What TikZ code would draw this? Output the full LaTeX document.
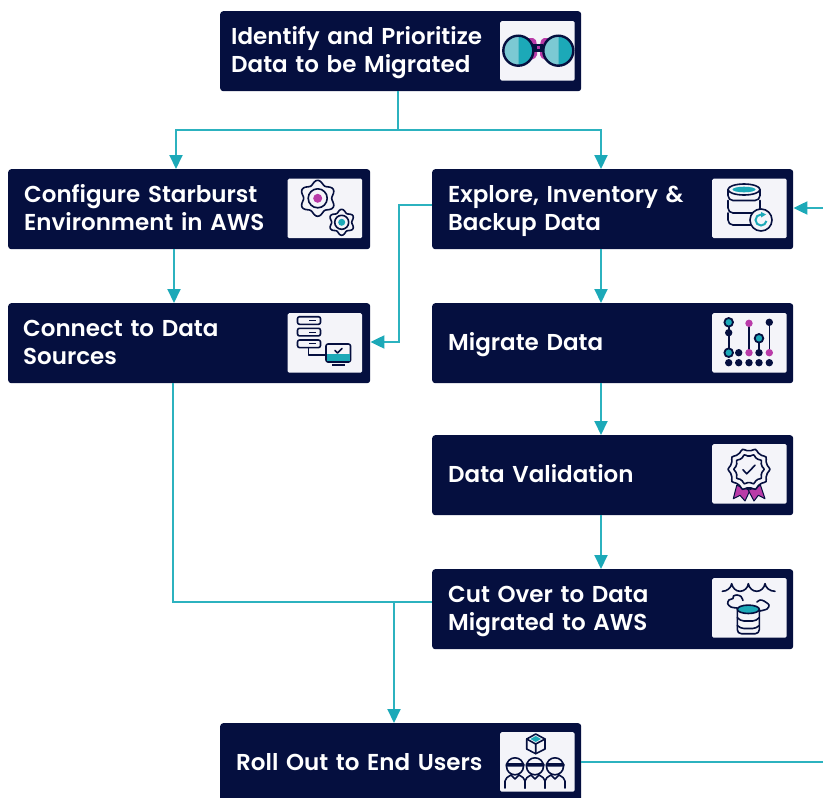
\documentclass[tikz,border=0pt]{standalone}
\usepackage{fontspec}
\setmainfont{Poppins SemiBold}
\usetikzlibrary{arrows.meta}
\definecolor{navy}{HTML}{050F3F}
\definecolor{tile}{HTML}{F4F4F9}
\definecolor{teal}{HTML}{1CA9B8}
\definecolor{lteal}{HTML}{7CC9D3}
\definecolor{wire}{HTML}{2CB2BF}
\definecolor{mag}{HTML}{B93BA8}
\tikzset{
  box/.style={fill=navy,text=white,rounded corners=3pt,anchor=north west,align=left,
    minimum height=80pt,inner xsep=16pt,inner ysep=0pt,text width=329pt,
    font=\fontsize{23}{28}\selectfont,execute at begin node={\vadjust pre{\kern4pt}\strut},execute at end node=\strut},
  icontile/.style={fill=tile,rounded corners=1.5pt,anchor=north west,inner sep=0pt,minimum width=74.5pt,minimum height=59.5pt},
  ic/.style={draw=navy,line width=1.6pt,line cap=round,line join=round},
  conn/.style={draw=wire,line width=2pt},
  arr/.style={conn,-{Triangle[length=14pt,width=13pt,color=teal]}}
}
\begin{document}
\begin{tikzpicture}[x=1pt,y=-1pt]
\useasboundingbox (0,0) rectangle (823,798);
\clip (0,0) rectangle (823,798);
% boxes
\node[box,inner xsep=11pt,text width=339pt] (top) at (220,11) {Identify and Prioritize\\Data to be Migrated};
\node[box,text width=330pt] (cfg) at (8,169) {Configure Starburst\\Environment in AWS};
\node[box] (exp) at (432,169) {Explore, Inventory \&\\Backup Data};
\node[box,inner xsep=15pt,text width=332pt] (con) at (8,303) {Connect to Data\\Sources};
\node[box] (mig) at (432,303) {Migrate Data};
\node[box] (val) at (432,435) {Data Validation};
\node[box] (cut) at (432,569) {Cut Over to Data\\Migrated to AWS};
\node[box] (rol) at (220,723) {Roll Out to End Users};
% icon tiles
\node[icontile] (t1) at (500,21) {};
\node[icontile] (t2) at (287.5,178.5) {};
\node[icontile] (t3) at (712,178.5) {};
\node[icontile] (t4) at (287.5,313) {};
\node[icontile] (t5) at (712,313) {};
\node[icontile] (t6) at (712,444) {};
\node[icontile] (t7) at (712,578) {};
\node[icontile] (t8) at (500,732) {};
% connector coordinates
\coordinate (split) at (398,130);
\coordinate (join) at (394,602);
\coordinate (offR) at (823,762);
\coordinate (offE) at (823,208);
\draw[conn] (top.south -| split) -- (split);
\draw[arr] (split) -| (176,169);
\draw[arr] (split) -| (601,169);
\draw[arr] (174,249) -- (174,303);
\draw[arr] (exp.west |- 0,205) -- (399,205) -- (399,342) -- (con.east |- 0,342);
\draw[arr] (601,249) -- (601,303);
\draw[arr] (601,383) -- (601,435);
\draw[arr] (601,515) -- (601,569);
\draw[conn] (173,383) -- (173,602) -- (cut.west |- join);
\draw[arr] (join) -- (rol.north -| join);
\draw[conn] (rol.east |- offR) -- (offR);
\draw[arr] (offE) -- (exp.east |- offE);
% binoculars
\fill[mag,rounded corners=2pt] (525,38) -- (535,38) -- (537,44) -- (537,57) -- (527,62) -- cycle;
\fill[mag,rounded corners=2pt] (551,38) -- (542,38) -- (540,44) -- (540,57) -- (549,62) -- cycle;
\fill[navy] (533,43.5) rectangle (543,52);
\fill[mag] (536.5,45.5) rectangle (539.5,48.5);
\foreach \c in {518.3,558.3}{
  \fill[lteal] (\c,35.7) arc[start angle=-90,end angle=-270,radius=15];
  \fill[teal] (\c,35.7) arc[start angle=-90,end angle=90,radius=15];
  \draw[navy,line width=2.4pt] (\c,50.7) circle[radius=15];
}
% gears
\begin{scope}[shift={(317.7,198.3)}]
  \draw[ic] plot[smooth cycle,domain=0:354,samples=60] (\x:{16-2*cos(6*\x)});
  \draw[ic] (0,0) circle[radius=9.5];
  \fill[mag] (0,0) circle[radius=4.5];
\end{scope}
\begin{scope}[shift={(341.7,222.3)}]
  \draw[ic] plot[smooth cycle,domain=0:354,samples=60] (\x:{11.5-1.5*cos(6*\x)});
  \draw[ic] (0,0) circle[radius=7];
  \fill[teal] (0,0) circle[radius=3.5];
\end{scope}
% database with refresh
\draw[ic,rounded corners=5pt] (728,189.5) -- (728,200.5) -- (760,200.5) -- (760,189.5);
\draw[ic,rounded corners=5pt] (728,200.5) -- (728,213) -- (760,213) -- (760,200.5);
\draw[ic,rounded corners=5pt] (728,213) -- (728,225) -- (752,225);
\draw[ic] (744,189.5) ellipse[x radius=16,y radius=5.5];
\fill[teal] (744,189.5) ellipse[x radius=11.5,y radius=2.8];
\draw[ic,fill=tile] (761,220) circle[radius=11];
\draw[teal,line width=2pt] (761,214.5) arc[start angle=-90,end angle=-350,radius=5.5];
\fill[teal] (761,212) -- (766,214.5) -- (761,217.5) -- cycle;
% servers and monitor
\foreach \y in {316.7,328.3,340}{
  \draw[ic,rounded corners=2pt] (297.5,\y) rectangle (320.5,\y+7.6);
  \draw[navy,line width=1.2pt] (309,\y+3.8) -- (316,\y+3.8);
}
\draw[ic] (308.5,347.7) -- (308.5,355) -- (326,355);
\draw[ic,fill=tile,rounded corners=2pt] (326,344) rectangle (350.5,362);
\fill[teal] (327,354) rectangle (349.5,361);
\draw[ic] (335,350.5) -- (337.5,353) -- (342,348.5);
\draw[navy,line width=2pt] (332,364.5) -- (345,364.5);
% sliders
\foreach \x in {728.7,738.7,749,759,769.3}{ \fill[navy] (\x,362.7) circle[radius=3.7]; }
\draw[ic] (728.7,322.3) -- (728.7,352.7) (749,323.3) -- (749,352.7) (759,338.3) -- (759,352.7) (769.3,322.3) -- (769.3,352.7);
\foreach \x/\y in {728.7/332.7,738.7/352.7,759/352.7,769.3/322.3}{ \fill[navy] (\x,\y) circle[radius=3.7]; }
\foreach \x/\y in {749/323.3,749/352.7,769.3/352.7}{ \fill[mag] (\x,\y) circle[radius=3.7]; }
\foreach \x/\y in {728.7/322.3,728.7/352.7,759/338.3}{ \draw[navy,fill=teal,line width=1.8pt] (\x,\y) circle[radius=4.3]; }
% badge
\draw[draw=navy,fill=mag,line width=1pt,line join=round] (736.7,485.3) -- (733.3,498.7) -- (740,495.3) -- (745,501) -- (750,490.3) -- cycle;
\draw[draw=navy,fill=mag,line width=1pt,line join=round] (760.5,485.3) -- (765,498.7) -- (758.3,495.3) -- (754,501) -- (748.3,490.3) -- cycle;
\begin{scope}[shift={(749,469.3)}]
  \draw[ic,fill=tile] plot[smooth cycle,domain=0:348,samples=30] (\x:{19.5+1.5*cos(10*\x)});
  \draw[ic] plot[smooth cycle,domain=0:348,samples=30] (\x:{14+1.2*cos(10*\x)});
  \draw[ic] (-6,0.5) -- (-2.3,4.5) -- (6,-4);
\end{scope}
% waves, clouds and database
\draw[ic] (722.3,591.3) .. controls (727,591.3) and (731,588) .. (731.7,583.7)
  .. controls (732.5,588) and (736,591.3) .. (740,591.3)
  .. controls (744,591.3) and (748,588) .. (748.3,583.7)
  .. controls (749,588) and (752.7,591.3) .. (756.7,591.3)
  .. controls (760.7,591.3) and (764.3,588) .. (765,583.7)
  .. controls (765.7,588) and (770,591.3) .. (775,591.3);
\draw[ic] plot[smooth] coordinates {(737,608) (731,607) (727.7,603.7) (729,600) (733,598.5) (733.5,596) (737,595) (741,596.5) (743,600.5)};
\draw[ic] plot[smooth] coordinates {(757,602) (760,600) (764,601) (769,605) (767,609) (760,611)};
\draw[ic,fill=tile,rounded corners=4pt] (737.3,609.3) -- (737.3,633.7) -- (759.3,633.7) -- (759.3,609.3);
\draw[ic,rounded corners=4pt] (737.3,617.5) -- (740,621) -- (756.6,621) -- (759.3,617.5);
\draw[ic,rounded corners=4pt] (737.3,625.5) -- (740,628.5) -- (756.6,628.5) -- (759.3,625.5);
\draw[ic,fill=teal] (748.3,609.3) ellipse[x radius=11,y radius=4.2];
% cube and users
\draw[ic] (535.7,734) -- (545,739) -- (545,749) -- (535.7,753.7) -- (526.7,749) -- (526.7,739) -- cycle;
\draw[ic] (526.7,739) -- (535.7,744) -- (545,739) (535.7,744) -- (535.7,753.7);
\fill[teal] (535.7,736) -- (541,739) -- (535.7,742) -- (530.4,739) -- cycle;
\foreach \c in {515,535,555}{
  \draw[ic] (\c,766.3) circle[radius=8.5];
  \fill[navy,rounded corners=1pt] (\c-9.5,763) rectangle (\c+9.5,766.5);
  \draw[ic] (\c-10,788) -- (\c-10,781) .. controls (\c-10,778) and (\c-7,777) .. (\c-4,775);
  \draw[ic] (\c+10,788) -- (\c+10,781) .. controls (\c+10,778) and (\c+7,777) .. (\c+4,775);
  \draw[ic] (\c-4,775) -- (\c,779) -- (\c+4,775);
}
\end{tikzpicture}
\end{document}
